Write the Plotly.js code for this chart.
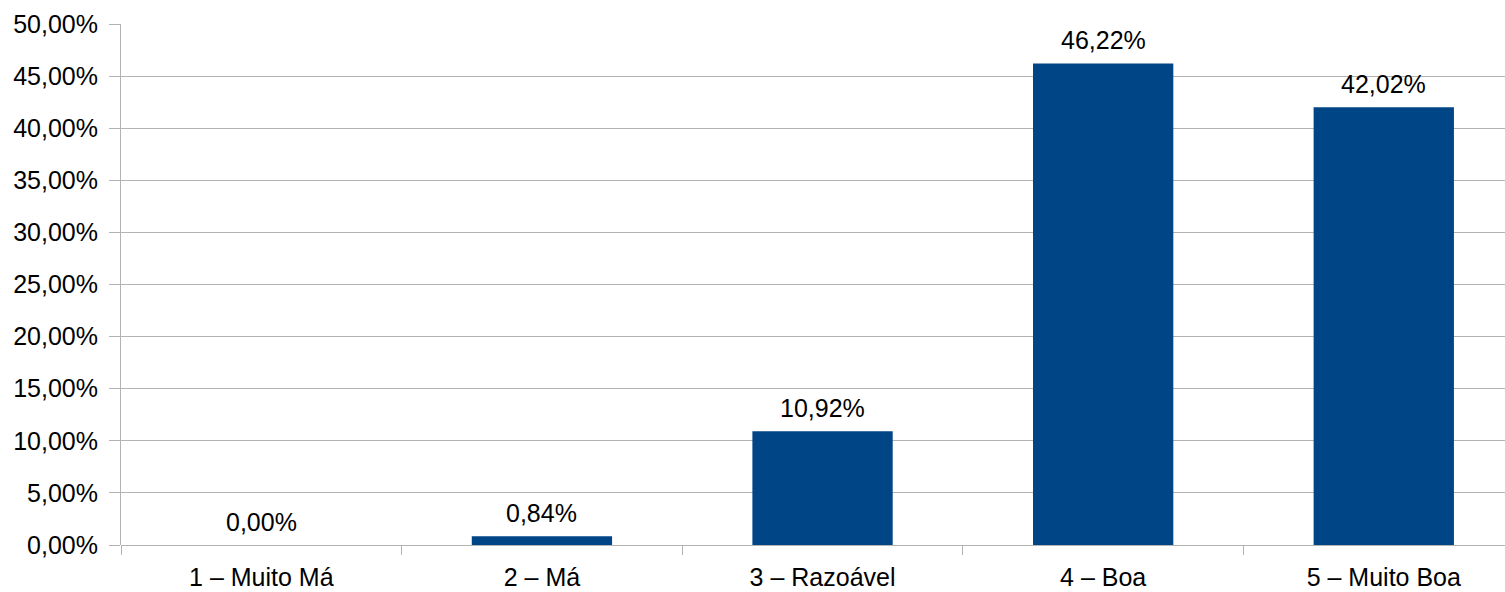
<!DOCTYPE html>
<html>
<head>
<meta charset="utf-8">
<script src="https://cdn.plot.ly/plotly-3.0.1.min.js"></script>
<style>html,body{margin:0;padding:0;background:#fff;}#chart{width:1505px;height:592px;}</style>
</head>
<body>
<div id="chart"></div>
<script>
const categories = ["1 – Muito Má", "2 – Má", "3 – Razoável", "4 – Boa", "5 – Muito Boa"];
const values = [0.00, 0.84, 10.92, 46.22, 42.02];

const fmt = v => v.toFixed(2).replace('.', ',') + '%';
const FONT = '"Liberation Sans", Arial, sans-serif';
const FS = 25;

const annotations = categories.map((c, i) => ({
  x: c, y: values[i], xref: 'x', yref: 'y',
  text: fmt(values[i]), showarrow: false,
  yanchor: 'bottom', yshift: 7,
  font: {family: FONT, size: FS, color: '#000'}
}));

const trace = {
  type: 'bar', x: categories, y: values,
  width: 0.5,
  marker: {color: '#004586'},
  hoverinfo: 'none'
};

const layout = {
  width: 1505, height: 592,
  margin: {l: 121, r: 0, t: 24, b: 47},
  paper_bgcolor: '#fff', plot_bgcolor: '#fff',
  separators: ',.',
  showlegend: false,
  font: {family: FONT, size: FS, color: '#000'},
  xaxis: {
    type: 'category',
    range: [-0.5, 4.432],
    tickson: 'boundaries',
    ticks: 'outside', ticklen: 9, tickcolor: '#b3b3b3', tickwidth: 1,
    ticklabelstandoff: 15,
    showgrid: false, showline: false, zeroline: false,
    tickfont: {family: FONT, size: FS, color: '#000'}
  },
  yaxis: {
    range: [0, 50], dtick: 5,
    tickformat: '.2f', ticksuffix: '%',
    ticks: 'outside', ticklen: 11, tickcolor: '#b3b3b3', tickwidth: 1,
    ticklabelstandoff: 6,
    showgrid: true, gridcolor: '#b3b3b3', gridwidth: 1,
    showline: true, linecolor: '#b3b3b3', linewidth: 1,
    zeroline: true, zerolinecolor: '#b3b3b3', zerolinewidth: 1,
    tickfont: {family: FONT, size: FS, color: '#000'}
  },
  annotations: annotations
};

Plotly.newPlot('chart', [trace], layout, {staticPlot: true, displayModeBar: false});
</script>
</body>
</html>
